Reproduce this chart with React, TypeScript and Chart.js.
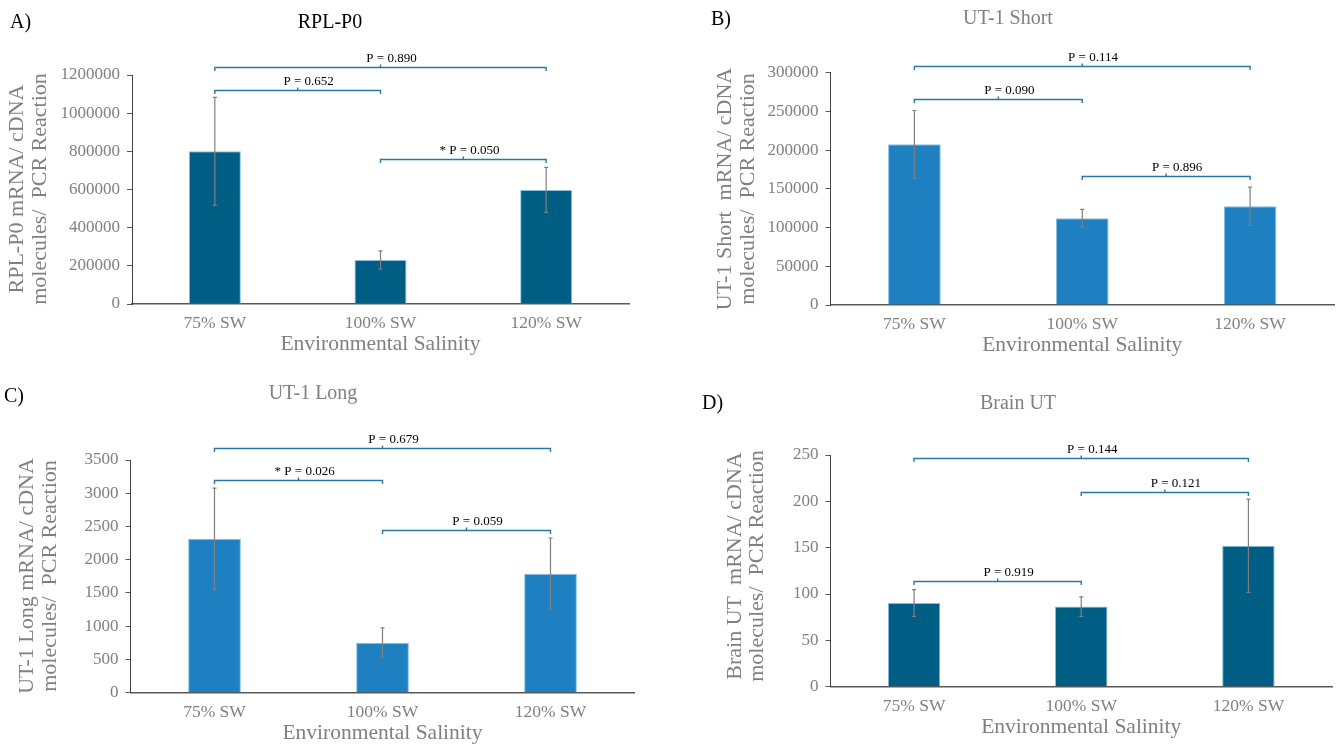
import React, { useEffect, useRef } from "react";
import { Chart, registerables } from "chart.js";

Chart.register(...registerables);

// ---------------- DATA ----------------
const categories = ["75% SW", "100% SW", "120% SW"];

const rplP0Means = [800000, 230000, 598000];
const rplP0Errors = [283000, 48000, 118000];
const rplP0Brackets = [
  { from: 0, to: 2, level: 1243500, label: "P = 0.890" },
  { from: 0, to: 1, level: 1121000, label: "P = 0.652" },
  { from: 1, to: 2, level: 758000, label: "* P = 0.050" },
];

const ut1ShortMeans = [207500, 112000, 127500];
const ut1ShortErrors = [43700, 11500, 24800];
const ut1ShortBrackets = [
  { from: 0, to: 2, level: 308700, label: "P = 0.114" },
  { from: 0, to: 1, level: 266000, label: "P = 0.090" },
  { from: 1, to: 2, level: 166600, label: "P = 0.896" },
];

const ut1LongMeans = [2316, 752, 1790];
const ut1LongErrors = [762, 223, 537];
const ut1LongBrackets = [
  { from: 0, to: 2, level: 3688, label: "P = 0.679" },
  { from: 0, to: 1, level: 3200, label: "* P = 0.026" },
  { from: 1, to: 2, level: 2447, label: "P = 0.059" },
];

const brainUtMeans = [90.3, 86.4, 152];
const brainUtErrors = [14.5, 10.5, 50.3];
const brainUtBrackets = [
  { from: 0, to: 2, level: 247, label: "P = 0.144" },
  { from: 1, to: 2, level: 210.4, label: "P = 0.121" },
  { from: 0, to: 1, level: 113.7, label: "P = 0.919" },
];

const xAxisTitle = "Environmental Salinity";

// ---------------- STYLE ----------------
const FONT = "'Liberation Serif', 'Times New Roman', serif";
const GRAY = "#808080";
const DARK_BAR = "#005e84";
const LIGHT_BAR = "#1f80c1";
const BAR_EDGE = "#8cc0e0";
const BRACKET = "#2878a6";

type Bracket = { from: number; to: number; level: number; label: string };
type PanelDef = {
  letter: string;
  title: string;
  titleColor: string;
  yTitle: string[];
  means: number[];
  errors: number[];
  brackets: Bracket[];
  yMax: number;
  yStep: number;
  color: string;
  canvas: { x: number; y: number; w: number; h: number };
  area: { left: number; right: number; top: number; bottom: number };
  letterPos: { x: number; y: number };
  titlePos: { x: number; y: number };
  yTitlePos: { x1: number; x2: number; cy: number };
};

const panels: PanelDef[] = [
  {
    letter: "A)",
    title: "RPL-P0",
    titleColor: "#000000",
    yTitle: ["RPL-P0 mRNA/ cDNA", "molecules/  PCR Reaction"],
    means: rplP0Means,
    errors: rplP0Errors,
    brackets: rplP0Brackets,
    yMax: 1200000,
    yStep: 200000,
    color: DARK_BAR,
    canvas: { x: 0, y: 0, w: 669, h: 373 },
    area: { left: 132, right: 629, top: 75, bottom: 304 },
    letterPos: { x: 10, y: 23 },
    titlePos: { x: 330, y: 23 },
    yTitlePos: { x1: 17, x2: 40, cy: 189 },
  },
  {
    letter: "B)",
    title: "UT-1 Short",
    titleColor: GRAY,
    yTitle: ["UT-1 Short  mRNA/ cDNA", "molecules/  PCR Reaction"],
    means: ut1ShortMeans,
    errors: ut1ShortErrors,
    brackets: ut1ShortBrackets,
    yMax: 300000,
    yStep: 50000,
    color: LIGHT_BAR,
    canvas: { x: 669, y: 0, w: 669, h: 373 },
    area: { left: 830.5, right: 1334, top: 72.7, bottom: 305 },
    letterPos: { x: 711, y: 20 },
    titlePos: { x: 1008, y: 19 },
    yTitlePos: { x1: 725, x2: 748, cy: 189 },
  },
  {
    letter: "C)",
    title: "UT-1 Long",
    titleColor: GRAY,
    yTitle: ["UT-1 Long mRNA/ cDNA", "molecules/  PCR Reaction"],
    means: ut1LongMeans,
    errors: ut1LongErrors,
    brackets: ut1LongBrackets,
    yMax: 3500,
    yStep: 500,
    color: LIGHT_BAR,
    canvas: { x: 0, y: 373, w: 669, h: 373 },
    area: { left: 130.5, right: 634.5, top: 460, bottom: 692.7 },
    letterPos: { x: 4, y: 396.5 },
    titlePos: { x: 313, y: 394 },
    yTitlePos: { x1: 27, x2: 50, cy: 576 },
  },
  {
    letter: "D)",
    title: "Brain UT",
    titleColor: GRAY,
    yTitle: ["Brain UT  mRNA/ cDNA", "molecules/  PCR Reaction"],
    means: brainUtMeans,
    errors: brainUtErrors,
    brackets: brainUtBrackets,
    yMax: 250,
    yStep: 50,
    color: DARK_BAR,
    canvas: { x: 669, y: 373, w: 669, h: 373 },
    area: { left: 830.5, right: 1332, top: 455, bottom: 686.7 },
    letterPos: { x: 702, y: 403.5 },
    titlePos: { x: 1018, y: 404 },
    yTitlePos: { x1: 735, x2: 757, cy: 566 },
  },
];

function makeDecor(p: PanelDef) {
  const ox = p.canvas.x;
  const oy = p.canvas.y;
  return {
    id: "decor_" + p.letter,
    afterDatasetsDraw(chart: any) {
      const ctx = chart.ctx as CanvasRenderingContext2D;
      const ys = chart.scales.y;
      const meta = chart.getDatasetMeta(0);
      ctx.save();
      ctx.strokeStyle = "#7f7f7f";
      ctx.lineWidth = 1.2;
      p.means.forEach((m, i) => {
        const el = meta.data[i];
        const x = el.x;
        const yt = ys.getPixelForValue(m + p.errors[i]);
        const yb = ys.getPixelForValue(m - p.errors[i]);
        ctx.beginPath();
        ctx.moveTo(x, yt);
        ctx.lineTo(x, yb);
        ctx.moveTo(x - 2, yt);
        ctx.lineTo(x + 2, yt);
        ctx.moveTo(x - 2, yb);
        ctx.lineTo(x + 2, yb);
        ctx.stroke();
      });
      ctx.restore();
    },
    afterDraw(chart: any) {
      const ctx = chart.ctx as CanvasRenderingContext2D;
      const xs = chart.scales.x;
      const ys = chart.scales.y;
      const ca = chart.chartArea;
      ctx.save();
      // brackets
      ctx.strokeStyle = BRACKET;
      ctx.lineWidth = 1.4;
      ctx.font = `13px ${FONT}`;
      ctx.fillStyle = "#000000";
      p.brackets.forEach((b) => {
        const x1 = xs.getPixelForValue(b.from);
        const x2 = xs.getPixelForValue(b.to);
        const y = Math.round(ys.getPixelForValue(b.level)) + 0.5;
        const xm = (x1 + x2) / 2;
        ctx.beginPath();
        ctx.moveTo(x1, y + 3.5);
        ctx.lineTo(x1, y);
        ctx.lineTo(x2, y);
        ctx.lineTo(x2, y + 3.5);
        ctx.moveTo(xm, y);
        ctx.lineTo(xm, y - 3);
        ctx.stroke();
        const idx = b.label.indexOf("=");
        const prefix = b.label.slice(0, idx);
        const w1 = ctx.measureText(prefix).width;
        const we = ctx.measureText("=").width;
        ctx.textAlign = "left";
        ctx.textBaseline = "alphabetic";
        ctx.fillText(b.label, xm - w1 - we / 2, y - 5.5);
      });
      // panel letter
      ctx.fillStyle = "#000000";
      ctx.font = `20px ${FONT}`;
      ctx.textAlign = "left";
      ctx.textBaseline = "middle";
      ctx.fillText(p.letter, p.letterPos.x - ox, p.letterPos.y - oy);
      // title
      ctx.fillStyle = p.titleColor;
      ctx.textAlign = "center";
      ctx.fillText(p.title, p.titlePos.x - ox, p.titlePos.y - oy);
      // x title
      ctx.fillStyle = GRAY;
      ctx.font = `21.5px ${FONT}`;
      ctx.fillText(xAxisTitle, (ca.left + ca.right) / 2, ca.bottom + 40.5);
      // y title
      ctx.font = `22px ${FONT}`;
      const xsT = [p.yTitlePos.x1, p.yTitlePos.x2];
      p.yTitle.forEach((line, i) => {
        ctx.save();
        ctx.translate(xsT[i] - ox, p.yTitlePos.cy - oy);
        ctx.rotate(-Math.PI / 2);
        ctx.fillText(line, 0, 0);
        ctx.restore();
      });
      ctx.restore();
    },
  };
}

function Panel({ p }: { p: PanelDef }) {
  const ref = useRef<HTMLCanvasElement>(null);
  useEffect(() => {
    const cv = ref.current!;
    const a = p.area;
    const c = p.canvas;
    const yWidth = a.left - c.x;
    const xHeight = c.y + c.h - a.bottom;
    const chart = new Chart(cv, {
      type: "bar",
      data: {
        labels: categories,
        datasets: [
          {
            data: p.means,
            backgroundColor: p.color,
            borderColor: BAR_EDGE,
            borderWidth: 1,
            barPercentage: 0.314,
            categoryPercentage: 1,
          },
        ],
      },
      options: {
        responsive: false,
        animation: false,
        devicePixelRatio: 1,
        layout: {
          padding: { left: 0, top: a.top - c.y, right: c.x + c.w - a.right, bottom: 0 },
        },
        plugins: {
          legend: { display: false },
          tooltip: { enabled: false },
          title: { display: false },
        },
        scales: {
          x: {
            offset: true,
            grid: { display: false, drawTicks: false },
            border: { display: true, color: "#595959", width: 1.5 },
            ticks: {
              color: GRAY,
              font: { family: FONT, size: 17.5 },
              padding: 9,
              maxRotation: 0,
            },
            afterFit: (s: any) => {
              s.height = xHeight;
            },
          },
          y: {
            min: 0,
            max: p.yMax,
            grid: {
              display: true,
              drawOnChartArea: false,
              drawTicks: true,
              tickLength: 5,
              tickColor: "#595959",
            },
            border: { display: true, color: "#404040", width: 1 },
            ticks: {
              stepSize: p.yStep,
              color: GRAY,
              font: { family: FONT, size: 17 },
              padding: 7,
              callback: (v: any) => String(v),
            },
            afterFit: (s: any) => {
              s.width = yWidth;
            },
          },
        },
      },
      plugins: [makeDecor(p)],
    } as any);
    return () => chart.destroy();
  }, [p]);
  return (
    <canvas
      ref={ref}
      width={p.canvas.w}
      height={p.canvas.h}
      style={{
        position: "absolute",
        left: p.canvas.x,
        top: p.canvas.y,
        width: p.canvas.w,
        height: p.canvas.h,
      }}
    />
  );
}

export default function App() {
  return (
    <div
      style={{
        position: "fixed",
        left: 0,
        top: 0,
        width: 1338,
        height: 746,
        background: "#ffffff",
        overflow: "hidden",
      }}
    >
      {panels.map((p) => (
        <Panel key={p.letter} p={p} />
      ))}
    </div>
  );
}
